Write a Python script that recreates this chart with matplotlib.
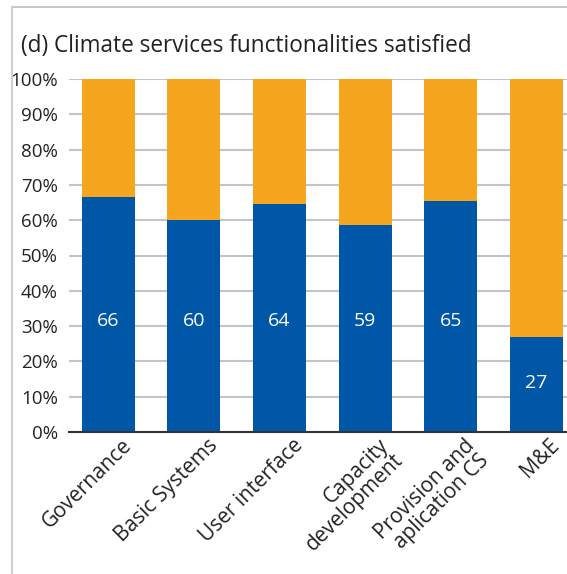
import numpy as np
import matplotlib.pyplot as plt
import matplotlib.transforms as mtransforms
from matplotlib.lines import Line2D

plt.rcParams['font.family'] = ['Open Sans', 'DejaVu Sans']

categories = ["Governance", "Basic Systems", "User interface",
              "Capacity\ndevelopment", "Provision and\naplication CS", "M&E"]
satisfied = [66.5, 60, 64.5, 58.5, 65.5, 27]
labels = ["66", "60", "64", "59", "65", "27"]

BLUE = "#0057a8"
ORANGE = "#f6a51e"

W, H = 567, 574
fig = plt.figure(figsize=(W / 100, H / 100), dpi=100)
ax = fig.add_axes([69 / W, 1 - 432 / H, (567 - 69) / W, (432 - 79) / H])

x = np.arange(len(categories))
rest = [100 - v for v in satisfied]
ax.bar(x, satisfied, width=0.62, color=BLUE, zorder=3)
ax.bar(x, rest, bottom=satisfied, width=0.62, color=ORANGE, zorder=3)
for xi, v, lab in zip(x, satisfied, labels):
    ax.text(xi, 14 if v < 40 else 31.5, lab, ha="center", va="center",
            color="white", fontsize=14, zorder=4)

ax.set_xlim(-0.46, 5.36)
ax.set_ylim(0, 100)
ax.set_yticks(range(0, 101, 10))
ax.set_yticklabels([f"{v}%" for v in range(0, 101, 10)], fontsize=13.5, color="#222")
ax.yaxis.grid(True, color="#c4c4c8", lw=1.5, zorder=0)
ax.set_axisbelow(True)
ax.tick_params(axis="y", length=0, pad=8)
ax.tick_params(axis="x", length=0, pad=2)
ax.set_xticks(x)
ax.set_xticklabels(categories, rotation=45, ha="right", rotation_mode="anchor",
                   fontsize=15, color="#222", linespacing=1.0)
shift = mtransforms.ScaledTranslation(13 / 100, 0, fig.dpi_scale_trans)
for t in ax.get_xticklabels():
    t.set_transform(t.get_transform() + shift)
for s in ["top", "right", "left"]:
    ax.spines[s].set_visible(False)
ax.spines["bottom"].set_color("#333")
ax.spines["bottom"].set_linewidth(1.5)
ax.spines["bottom"].set_zorder(5)

fig.text(21 / W, 1 - 46 / H, "(d) Climate services functionalities satisfied",
         fontsize=16.3, color="#222", va="center")

# frame lines
fig.add_artist(Line2D([12 / W, 1], [1 - 7 / H, 1 - 7 / H], color="#bdbdbd", lw=1.2))
fig.add_artist(Line2D([12 / W, 12 / W], [0, 1 - 7 / H], color="#d0d0d0", lw=1.5))

fig.savefig("out.png", dpi=100)
